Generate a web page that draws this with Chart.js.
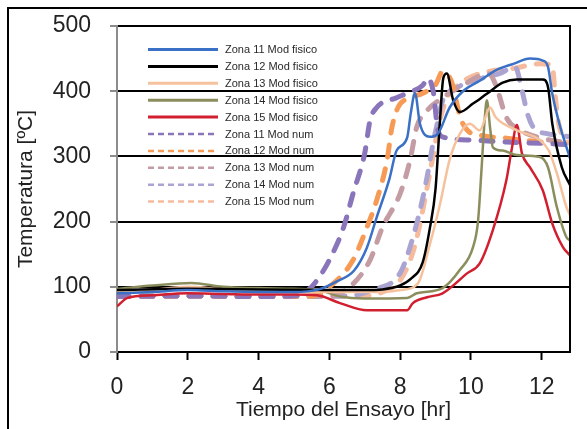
<!DOCTYPE html>
<html>
<head>
<meta charset="utf-8">
<script src="https://cdn.jsdelivr.net/npm/chart.js@4.4.1/dist/chart.umd.min.js"></script>
<style>
  html, body { margin: 0; padding: 0; background: #fff; }
</style>
</head>
<body>
<canvas id="chart" width="587" height="429"></canvas>
<script>
// valores (tiempo [hr], temperatura [ºC])
const z11FisT = [0, 1, 2, 3, 4, 5, 5.7, 6.2, 6.7, 7.06, 7.34, 7.7, 7.9, 8.2, 8.3, 8.42, 8.56, 8.84, 9.07, 9.4, 9.8, 10.25, 10.7, 11.2, 11.67, 12.03, 12.18, 12.3, 12.5, 12.8];
const z11FisV = [90, 92, 95, 93, 92, 92, 96, 108, 125, 160, 207, 266, 309, 329, 366, 397, 350, 330, 335, 375, 401, 416, 432, 442, 450, 447, 437, 396, 350, 297];

const z12FisT = [0, 2, 4, 6, 7, 7.5, 8.0, 8.3, 8.64, 8.84, 9.0, 9.12, 9.22, 9.32, 9.5, 9.69, 10.06, 10.45, 10.9, 11.3, 12.03, 12.18, 12.3, 12.57, 12.8];
const z12FisV = [95, 97, 96, 95, 95, 96, 102, 112, 138, 190, 250, 350, 420, 427, 386, 368, 381, 396, 413, 418, 418, 406, 350, 283, 256];

const z13FisT = [0, 1, 2, 3, 4, 5, 6, 7, 7.5, 8.0, 8.5, 8.84, 9.12, 9.4, 9.69, 9.97, 10.25, 10.54, 10.7, 11.3, 11.95, 12.2, 12.43, 12.7, 12.8];
const z13FisV = [92, 95, 100, 96, 93, 92, 92, 92, 92, 95, 105, 165, 225, 295, 335, 350, 340, 375, 360, 340, 325, 309, 274, 222, 210];

const z14FisT = [0, 1, 2.1, 3, 4, 5, 5.7, 6.3, 7.0, 8.2, 8.47, 9.2, 9.69, 10.06, 10.2, 10.3, 10.38, 10.45, 10.55, 10.62, 10.9, 11.3, 11.95, 12.18, 12.43, 12.7, 12.8];
const z14FisV = [97, 102, 106, 100, 98, 97, 95, 85, 82, 83, 90, 98, 126, 161, 200, 280, 350, 386, 340, 314, 309, 302, 299, 283, 222, 176, 171];

const z15FisT = [0, 0.3, 1, 2, 3, 4, 5, 5.65, 6.3, 7.06, 8.2, 8.36, 8.76, 9.2, 9.9, 10.25, 10.62, 11.0, 11.15, 11.3, 11.44, 11.67, 12.03, 12.3, 12.6, 12.8];
const z15FisV = [70, 83, 87, 90, 89, 88, 88, 87, 75, 64, 64, 75, 84, 90, 121, 136, 187, 263, 310, 348, 305, 283, 248, 197, 161, 148];

const z11NumT = [0, 2, 4, 5.0, 5.4, 5.65, 6.0, 6.4, 6.67, 7.0, 7.15, 7.34, 7.9, 8.2, 8.64, 8.78, 8.95, 9.05, 9.2, 10, 11, 12, 12.8];
const z11NumV = [85, 86, 85, 86, 95, 110, 141, 191, 243, 305, 355, 375, 390, 397, 409, 420, 395, 345, 330, 325, 322, 320, 318];

const z12NumT = [0, 2, 4, 5.5, 6.0, 6.67, 7.06, 7.34, 7.63, 7.77, 7.94, 8.28, 8.64, 9.0, 9.2, 9.45, 9.7, 9.9, 10.3, 11, 12, 12.8];
const z12NumV = [85, 86, 85, 86, 100, 141, 191, 233, 294, 345, 375, 390, 397, 410, 430, 415, 360, 340, 332, 328, 322, 318];

const z13NumT = [0, 2, 4, 6.0, 6.58, 7.15, 7.5, 8.0, 8.28, 8.47, 8.76, 9.2, 9.8, 10.5, 10.7, 11.0, 11.4, 12, 12.8];
const z13NumV = [85, 86, 85, 86, 100, 141, 191, 243, 294, 345, 370, 390, 410, 427, 410, 360, 340, 328, 320];

const z14NumT = [0, 2, 4, 6.5, 7.2, 8.0, 8.28, 8.56, 8.76, 8.93, 9.05, 9.2, 9.6, 10.06, 10.8, 11.25, 11.45, 11.6, 11.8, 12.15, 12.8];
const z14NumV = [85, 86, 85, 86, 95, 121, 161, 217, 268, 320, 350, 385, 405, 416, 427, 437, 400, 365, 342, 335, 330];

const z15NumT = [0, 2, 4, 7.0, 7.5, 8.0, 8.4, 8.84, 9.1, 9.3, 9.7, 10.25, 11.2, 11.95, 12.3, 12.37, 12.45, 12.6, 12.8];
const z15NumV = [85, 86, 85, 86, 92, 110, 160, 274, 350, 386, 412, 427, 435, 442, 440, 401, 360, 329, 320];

const xTicks = [0, 2, 4, 6, 8, 10, 12];
const yTicks = [0, 100, 200, 300, 400, 500];

function pts(t, v) {
  return t.map((x, i) => ({ x: x, y: v[i] }));
}

function solid(label, color, t, v) {
  return {
    label: label,
    data: pts(t, v),
    borderColor: color,
    borderWidth: 2.5,
    pointRadius: 0,
    cubicInterpolationMode: 'monotone',
    fill: false
  };
}

function dashed(label, color, t, v) {
  return {
    label: label,
    data: pts(t, v),
    borderColor: color,
    borderWidth: 5,
    borderDash: [12, 12],
    borderCapStyle: 'round',
    pointRadius: 0,
    cubicInterpolationMode: 'monotone',
    fill: false
  };
}

const datasets = [
  solid('Zona 11 Mod fisico', '#3a70c6', z11FisT, z11FisV),
  solid('Zona 12 Mod fisico', '#000000', z12FisT, z12FisV),
  solid('Zona 13 Mod fisico', '#f6c29e', z13FisT, z13FisV),
  solid('Zona 14 Mod fisico', '#8b8e5c', z14FisT, z14FisV),
  solid('Zona 15 Mod fisico', '#d21f2f', z15FisT, z15FisV),
  dashed('Zona 11 Mod num', '#8a75bb', z11NumT, z11NumV),
  dashed('Zona 12 Mod num', '#f79a55', z12NumT, z12NumV),
  dashed('Zona 13 Mod num', '#c49ca4', z13NumT, z13NumV),
  dashed('Zona 14 Mod num', '#aaa4d2', z14NumT, z14NumV),
  dashed('Zona 15 Mod num', '#f6bb9c', z15NumT, z15NumV)
];

// marco exterior, borde derecho del area y leyenda dentro del grafico
const framePlugin = {
  id: 'framePlugin',
  afterDraw(chart) {
    const ctx = chart.ctx;
    const area = chart.chartArea;
    ctx.save();
    ctx.strokeStyle = '#000';
    ctx.lineWidth = 2;
    ctx.strokeRect(8, 8, 640, 480);
    ctx.beginPath();
    ctx.moveTo(area.right, area.top - 1);
    ctx.lineTo(area.right, area.bottom);
    ctx.stroke();

    ctx.font = '11px "Liberation Sans", Arial, sans-serif';
    ctx.textBaseline = 'middle';
    chart.data.datasets.forEach((ds, i) => {
      const y = 49.5 + i * 16.9;
      ctx.beginPath();
      ctx.strokeStyle = ds.borderColor;
      if (ds.borderDash) {
        ctx.lineWidth = 2.5;
        ctx.setLineDash([6, 4]);
      } else {
        ctx.lineWidth = 3;
        ctx.setLineDash([]);
      }
      ctx.moveTo(148, y);
      ctx.lineTo(218, y);
      ctx.stroke();
      ctx.setLineDash([]);
      ctx.fillStyle = '#2a2a2a';
      ctx.fillText(ds.label, 225, y + 0.5);
    });
    ctx.restore();
  }
};

new Chart(document.getElementById('chart').getContext('2d'), {
  type: 'line',
  data: { datasets: datasets },
  plugins: [framePlugin],
  options: {
    responsive: false,
    animation: false,
    devicePixelRatio: 1,
    layout: { padding: { left: 0, right: 17, top: 26, bottom: 0 } },
    plugins: {
      legend: { display: false },
      tooltip: { enabled: false }
    },
    scales: {
      x: {
        type: 'linear',
        min: 0,
        max: 12.8,
        afterFit: (s) => { s.height = 77; s.paddingLeft = 0; s.paddingRight = 0; },
        afterBuildTicks: (s) => { s.ticks = xTicks.map(v => ({ value: v })); },
        ticks: {
          includeBounds: false,
          padding: 14,
          color: '#222',
          font: { family: '"Liberation Sans", Arial, sans-serif', size: 23 }
        },
        grid: {
          drawOnChartArea: false,
          drawTicks: true,
          tickLength: 8,
          tickColor: '#000',
          tickWidth: 2
        },
        border: { color: '#000', width: 2 },
        title: {
          display: true,
          text: 'Tiempo del Ensayo [hr]',
          color: '#222',
          font: { family: '"Liberation Sans", Arial, sans-serif', size: 21 },
          padding: { top: 0, bottom: 6 }
        }
      },
      y: {
        min: 0,
        max: 500,
        afterFit: (s) => { s.width = 117; s.paddingTop = 0; s.paddingBottom = 0; },
        afterBuildTicks: (s) => { s.ticks = yTicks.map(v => ({ value: v })); },
        ticks: {
          padding: 19,
          color: '#222',
          font: { family: '"Liberation Sans", Arial, sans-serif', size: 23 }
        },
        grid: {
          color: '#000',
          lineWidth: 2,
          drawTicks: true,
          tickLength: 7,
          tickColor: '#8c8c8c',
          tickWidth: 2
        },
        border: { color: '#8c8c8c', width: 2 },
        title: {
          display: true,
          text: 'Temperatura [ºC]',
          color: '#222',
          font: { family: '"Liberation Sans", Arial, sans-serif', size: 21 },
          padding: { top: 14, bottom: 0 }
        }
      }
    }
  }
});
</script>
</body>
</html>
